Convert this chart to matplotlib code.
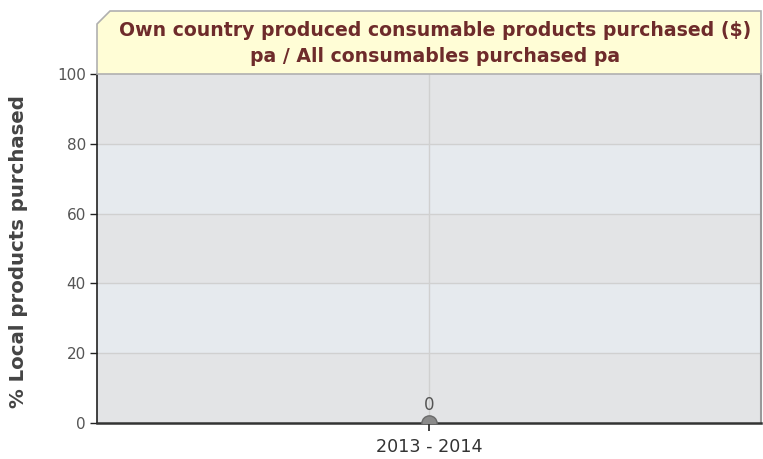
import matplotlib
matplotlib.use("Agg")
import matplotlib.pyplot as plt
from matplotlib.patches import Polygon

categories = ["2013 - 2014"]
values = [0]
y_ticks = [0, 20, 40, 60, 80, 100]
title = "Own country produced consumable products purchased ($)\npa / All consumables purchased pa"
ylabel = "% Local products purchased"

W, H = 763, 459
fig = plt.figure(figsize=(W / 100, H / 100), dpi=100)
fig.patch.set_facecolor("white")

def fx(px):
    return px / W

def fy(py):
    return 1 - py / H

L, R, T, B = 97, 761, 74, 423
ax = fig.add_axes([fx(L), fy(B), fx(R) - fx(L), fy(T) - fy(B)])

# title box with clipped corner
poly = Polygon([(fx(97), fy(24)), (fx(110), fy(11)), (fx(761), fy(11)),
                (fx(761), fy(74)), (fx(97), fy(74))], closed=True,
               transform=fig.transFigure, facecolor="#fffdd6", edgecolor="#b0b0b0",
               linewidth=1.2, zorder=0)
fig.patches.append(poly)
fig.text(fx(435), fy(43.5), title, ha="center", va="center", fontsize=13.6,
         fontweight="bold", color="#6e2b2b", family="DejaVu Sans", linespacing=1.45)

# banded background
ax.set_facecolor("#e3e4e6")
for i in range(len(y_ticks) - 1):
    if i % 2 == 1:
        ax.axhspan(y_ticks[i], y_ticks[i + 1], color="#e6eaee", zorder=0)
for yv in y_ticks[1:-1]:
    ax.axhline(yv, color="#d0d0d0", linewidth=1, zorder=1)

x = list(range(len(categories)))
ax.set_xlim(-0.5, len(categories) - 0.5)
ax.set_ylim(0, 100)
ax.axvline(x[0], color="#d0d0d0", linewidth=1, zorder=1)

ax.plot(x, values, linestyle="none", marker="o", markersize=11,
        markerfacecolor="#8a8a8a", markeredgecolor="#6a6a6a", clip_on=True, zorder=3)
for xi, v in zip(x, values):
    ax.text(xi, v + 2.6, str(v), ha="center", va="bottom", fontsize=12,
            color="#555555", family="DejaVu Sans")

ax.set_yticks(y_ticks)
ax.set_yticklabels([str(t) for t in y_ticks], fontsize=11, color="#555555",
                   family="DejaVu Sans")
ax.set_xticks(x)
ax.set_xticklabels(categories, fontsize=12.6, color="#333333", family="DejaVu Sans")
ax.tick_params(axis="y", length=5, width=1, color="#222222", pad=3)
ax.tick_params(axis="x", length=6, width=1.2, color="#222222", pad=5)

ax.spines["top"].set_visible(False)
ax.spines["left"].set_color("#222222")
ax.spines["left"].set_linewidth(1.2)
ax.spines["bottom"].set_color("#333333")
ax.spines["bottom"].set_linewidth(1.8)
ax.spines["right"].set_color("#999999")
ax.spines["right"].set_linewidth(1.5)

fig.text(fx(19), fy(252), ylabel, rotation=90, ha="center", va="center",
         fontsize=14.2, fontweight="bold", color="#444444", family="DejaVu Sans")

fig.savefig("out.png", dpi=100)
